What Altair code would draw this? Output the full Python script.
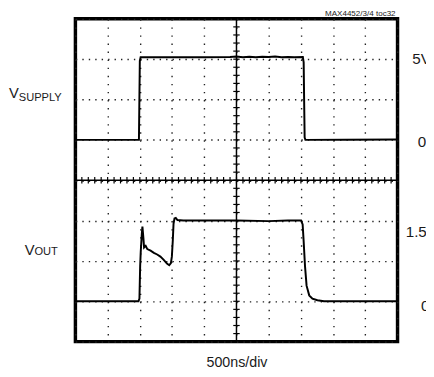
import altair as alt
import pandas as pd

# ---- data (time in ns, voltage in V) ----
supply_t = [0, 986, 993, 1000, 1012, 1500, 2000, 2400, 2500, 2600, 2700, 2800,
            2900, 3000, 3100, 3200, 3300, 3400, 3530, 3543, 3550, 3558, 3570, 4200, 5000]
supply_v = [0.0, 0.0, 2.5, 4.9, 5.12, 5.12, 5.12, 5.13, 5.16, 5.12, 5.15, 5.12,
            5.15, 5.13, 5.16, 5.12, 5.14, 5.12, 5.13, 4.8, 2.5, 0.15, 0.0, 0.01, 0.02]

out_t = [0, 979, 994, 1005, 1014, 1030, 1040, 1055, 1066, 1091, 1116, 1167, 1218,
         1269, 1319, 1371, 1421, 1456, 1482, 1497, 1512, 1523, 1538, 1558, 1584,
         1675, 2500, 3000, 3300, 3503, 3527, 3542, 3564, 3588, 3629, 3679, 3756,
         3858, 5000]
out_v = [0.0, 0.0, 0.05, 0.65, 0.92, 1.24, 1.39, 1.18, 1.0, 1.03, 0.97, 0.94, 0.90,
         0.87, 0.83, 0.77, 0.70, 0.67, 0.71, 0.83, 1.14, 1.44, 1.54, 1.55, 1.51,
         1.50, 1.50, 1.49, 1.50, 1.50, 1.43, 1.13, 0.65, 0.29, 0.11, 0.05, 0.02,
         0.0, 0.0]

# screen layout: 10 x 8 divisions, 500 ns/div
x_div_values = [0, 500, 1000, 1500, 2000, 2500, 3000, 3500, 4000, 4500, 5000]
y_div_values = [0, 1, 2, 3, 4, 5, 6, 7, 8]
supply_zero_div, supply_volts_per_div = 5, 2.5
out_zero_div, out_volts_per_div = 1, 0.75

right_labels = ["5V", "0", "1.5V", "0"]
right_label_divs = [7, 5, 3, 1]

FONT = "Liberation Sans, Arial, sans-serif"
INK = "#1a1a1a"

W, H = 328.3, 329.0

x_scale = alt.Scale(domain=[0, 5000], nice=False, zero=False)
y_scale = alt.Scale(domain=[0, 8], nice=False, zero=False)

supply_df = pd.DataFrame({"t": supply_t, "v": supply_v})
out_df = pd.DataFrame({"t": out_t, "v": out_v})

x_axis = alt.Axis(values=x_div_values, grid=True, gridDash=[1.4, 6.825], gridColor="#222",
                  gridWidth=1.4, labels=False, ticks=False, domain=False,
                  title="500ns/div", titleFont=FONT, titleFontSize=14.5,
                  titleFontWeight="normal", titleColor=INK, titlePadding=14.5)
y_axis = alt.Axis(values=y_div_values, grid=True, gridDash=[1.4, 5.166], gridColor="#222",
                  gridWidth=1.4, labels=False, ticks=False, domain=False, title=None)


def X(field):
    return alt.X(field, scale=x_scale, axis=x_axis, title="500ns/div")


def Y(field):
    return alt.Y(field, scale=y_scale, axis=y_axis, title=None)


supply = alt.Chart(supply_df).transform_calculate(
    d=f"{supply_zero_div} + datum.v / {supply_volts_per_div}"
).mark_line(color="black", strokeWidth=2).encode(
    x=X("t:Q"), y=Y("d:Q"), order="t:Q")

vout = alt.Chart(out_df).transform_calculate(
    d=f"{out_zero_div} + datum.v / {out_volts_per_div}"
).mark_line(color="black", strokeWidth=2).encode(
    x=X("t:Q"), y=Y("d:Q"), order="t:Q")

# centre cross with minor ticks (every 0.2 division)
vline = alt.Chart(pd.DataFrame({"t": [2500], "a": [0], "b": [8]})).mark_rule(
    color="black", strokeWidth=1.5).encode(x=X("t:Q"), y=Y("a:Q"), y2="b:Q")
hline = alt.Chart(pd.DataFrame({"d": [4], "a": [0], "b": [5000]})).mark_rule(
    color="black", strokeWidth=1.5).encode(y=Y("d:Q"), x=X("a:Q"), x2="b:Q")

hticks_df = pd.DataFrame({"t": list(range(100, 5000, 100))})
hticks_df["a"] = 3.92
hticks_df["b"] = 4.08
hticks = alt.Chart(hticks_df).mark_rule(color="black", strokeWidth=1.2).encode(
    x=X("t:Q"), y=Y("a:Q"), y2="b:Q")

vticks_df = pd.DataFrame({"d": [i / 5 for i in range(1, 40)]})
vticks_df["a"] = 2450
vticks_df["b"] = 2550
vticks = alt.Chart(vticks_df).mark_rule(color="black", strokeWidth=1.2).encode(
    y=Y("d:Q"), x=X("a:Q"), x2="b:Q")


def label(text, x, y, dx, dy, size, align="left"):
    return alt.Chart(pd.DataFrame({"x": [x], "y": [y], "s": [text]})).mark_text(
        font=FONT, fontSize=size, color=INK, align=align, baseline="alphabetic",
        dx=dx, dy=dy).encode(x=X("x:Q"), y=Y("y:Q"), text="s:N")


texts = [
    label("MAX4452/3/4 toc32", 5000, 8, -2, -2.5, 8.2, align="right"),
    label("V", 0, 6, -67.7, -2, 15),
    label("SUPPLY", 0, 6, -57.7, 1.2, 11.3),
    label("V", 0, 2, -51.7, -6.2, 15),
    label("OUT", 0, 2, -41.7, -6.2, 11.3),
]
right_dx = [15, 20.7, 8.3, 24]
right_dy = [4.5, 7.2, 16.7, 9.4]
for s, d, dx, dy in zip(right_labels, right_label_divs, right_dx, right_dy):
    texts.append(label(s, 5000, d, dx, dy, 15.5))

chart = alt.layer(supply, vout, vline, hline, hticks, vticks, *texts).properties(
    width=W, height=H,
    autosize=alt.AutoSizeParams(type="none"),
    padding={"left": 68.7, "top": 7.5, "right": 29, "bottom": 32.5},
    background="white",
).configure_view(stroke="black", strokeWidth=3.5)

chart.save("out.html", embed_options={"renderer": "svg", "actions": False})
